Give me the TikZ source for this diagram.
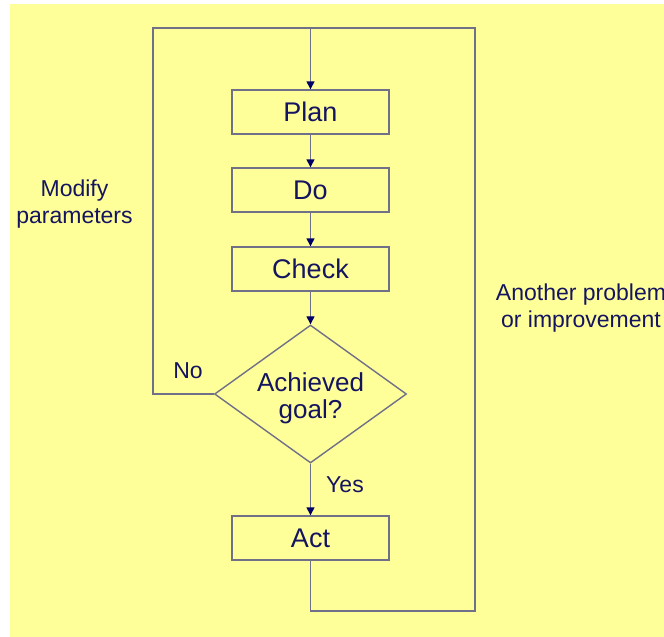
\documentclass[tikz,border=0pt]{standalone}
\usepackage{fontspec}
\setmainfont{Liberation Sans}
\usetikzlibrary{shapes.geometric,arrows.meta}
\definecolor{bgyellow}{RGB}{255,255,153}
\definecolor{linegray}{RGB}{112,112,136}
\definecolor{inknavy}{RGB}{20,20,96}
\definecolor{tipnavy}{RGB}{0,0,102}
\tikzset{
  stepbox/.style={draw=linegray, line width=1.4pt, minimum width=157pt,
    minimum height=44pt, inner sep=0pt, text=inknavy, font=\fontsize{27}{32}\selectfont},
  decision/.style={draw=linegray, line width=1.4pt, shape=diamond, inner sep=0pt,
    minimum width=192pt, minimum height=138pt, shape aspect=1.39},
  flow/.style={draw=linegray, line width=1.4pt},
  arr/.style={flow, -{Triangle[length=8pt,width=8pt,color=tipnavy]}},
  lbl/.style={text=inknavy, align=center, inner sep=0pt, font=\fontsize{23}{27}\selectfont},
  bigtext/.style={text=inknavy, align=center, inner sep=0pt, font=\fontsize{26}{27}\selectfont}
}
\begin{document}
\begin{tikzpicture}[x=1pt,y=-1pt]
  \useasboundingbox (0,0) rectangle (664,637);
  \clip (0,0) rectangle (664,637);
  \fill[white] (0,0) rectangle (664,637);
  \fill[bgyellow] (10,4) rectangle (664,637);

  % process steps
  \node[stepbox] (plan)  at (310.5,112) {Plan};
  \node[stepbox] (do)    at (310.5,190) {Do};
  \node[stepbox] (check) at (310.5,269) {Check};
  \node[decision] (goal) at (310.5,394) {};
  \node[bigtext] (goaltext) at (310.5,398) {Achieved\\goal?};
  \node[stepbox] (act)   at (310.5,538) {Act};

  % loop corners
  \coordinate (top) at (310.5,28);
  \coordinate (lt)  at (153,28);
  \coordinate (rb)  at (475,611);

  % main flow
  \draw[arr] (top) -- (plan);
  \draw[arr] (plan) -- (do);
  \draw[arr] (do) -- (check);
  \draw[arr] (check) -- (goal);
  \draw[arr] (goal) -- (act);

  % feedback loops
  \draw[flow] (goal.west) -| (lt) -- (top);
  \draw[flow] (act.south) |- (rb) |- (top);

  % labels
  \node[lbl] (no)  at (188,371) {No};
  \node[lbl] (yes) at (345,485) {Yes};
  \node[lbl] (modify) at (74.5,204) {Modify\\parameters};
  \node[lbl] (another) at (581,308) {Another problem\\or improvement};
\end{tikzpicture}
\end{document}
